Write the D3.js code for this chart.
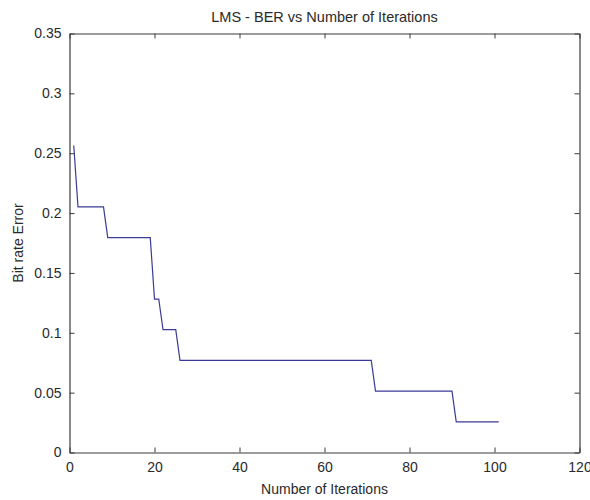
<!DOCTYPE html>
<html>
<head>
<meta charset="utf-8">
<script src="https://cdn.jsdelivr.net/npm/d3@7"></script>
<style>
  body { margin: 0; background: #fff; }
  text { font-family: "Liberation Sans", Arial, sans-serif; fill: #2a2a2a; }
  .axis path, .axis line { stroke: #3a3a3a; }
</style>
</head>
<body>
<div id="wrapper"></div>
<script>
// data: step points of the BER curve
const iterations = [1, 2, 8, 9, 19, 20, 21, 22, 25, 26, 71, 72, 90, 91, 101]
const berValues = [0.2564, 0.2051, 0.2051, 0.1795, 0.1795, 0.1282, 0.1282, 0.1026, 0.1026, 0.0769, 0.0769, 0.0513, 0.0513, 0.0256, 0.0256]
const xTicks = [0, 20, 40, 60, 80, 100, 120]
const yTicks = [0, 0.05, 0.1, 0.15, 0.2, 0.25, 0.3, 0.35]
const titleText = "LMS - BER vs Number of Iterations"
const xLabelText = "Number of Iterations"
const yLabelText = "Bit rate Error"

const dataset = iterations.map((x, i) => ({ x, y: berValues[i] }))

// dimensions
let dimensions = {
  width: 590,
  height: 500,
  margin: { top: 33.5, right: 10.5, bottom: 47.5, left: 69.5 },
  tickSize: 5,
}
dimensions.boundedWidth = dimensions.width - dimensions.margin.left - dimensions.margin.right
dimensions.boundedHeight = dimensions.height - dimensions.margin.top - dimensions.margin.bottom

const wrapper = d3.select("#wrapper")
  .append("svg")
    .attr("width", dimensions.width)
    .attr("height", dimensions.height)

const bounds = wrapper.append("g")
  .attr("transform", `translate(${dimensions.margin.left}, ${dimensions.margin.top})`)

// scales
const xScale = d3.scaleLinear()
  .domain([0, 120])
  .range([0, dimensions.boundedWidth])
const yScale = d3.scaleLinear()
  .domain([0, 0.35])
  .range([dimensions.boundedHeight, 0])

// line
const lineGenerator = d3.line()
  .x(d => xScale(d.x))
  .y(d => yScale(d.y))

bounds.append("path")
  .datum(dataset)
  .attr("d", lineGenerator)
  .attr("fill", "none")
  .attr("stroke", "#3a3a98")
  .attr("stroke-width", 1.2)

// axes (ticks inward, box all round)
const fmtY = d => d3.format("")(+d.toFixed(2))
const xAxis = d3.axisBottom(xScale).tickValues(xTicks).tickSizeInner(-dimensions.tickSize).tickSizeOuter(0).tickPadding(10)
const yAxis = d3.axisLeft(yScale).tickValues(yTicks).tickFormat(fmtY).tickSizeInner(-dimensions.tickSize).tickSizeOuter(0).tickPadding(8)

const xAxisGroup = bounds.append("g")
  .attr("class", "axis")
  .attr("transform", `translate(0, ${dimensions.boundedHeight})`)
  .call(xAxis)
xAxisGroup.selectAll("text").attr("font-size", 14).attr("dy", "0.71em")

const yAxisGroup = bounds.append("g")
  .attr("class", "axis")
  .call(yAxis)
yAxisGroup.selectAll("text").attr("font-size", 14)

bounds.append("g")
  .attr("class", "axis")
  .call(d3.axisTop(xScale).tickValues(xTicks).tickSizeInner(-dimensions.tickSize).tickSizeOuter(0).tickFormat(""))
bounds.append("g")
  .attr("class", "axis")
  .attr("transform", `translate(${dimensions.boundedWidth}, 0)`)
  .call(d3.axisRight(yScale).tickValues(yTicks).tickSizeInner(-dimensions.tickSize).tickSizeOuter(0).tickFormat(""))

bounds.selectAll(".axis path").attr("stroke-width", 1.2)

// labels
wrapper.append("text")
  .attr("x", dimensions.margin.left + dimensions.boundedWidth / 2)
  .attr("y", 22)
  .attr("text-anchor", "middle")
  .attr("font-size", 14.5)
  .text(titleText)

wrapper.append("text")
  .attr("x", dimensions.margin.left + dimensions.boundedWidth / 2)
  .attr("y", 494)
  .attr("text-anchor", "middle")
  .attr("font-size", 14)
  .text(xLabelText)

wrapper.append("text")
  .attr("transform", `translate(23, ${dimensions.margin.top + dimensions.boundedHeight / 2}) rotate(-90)`)
  .attr("text-anchor", "middle")
  .attr("font-size", 14)
  .text(yLabelText)
</script>
</body>
</html>
